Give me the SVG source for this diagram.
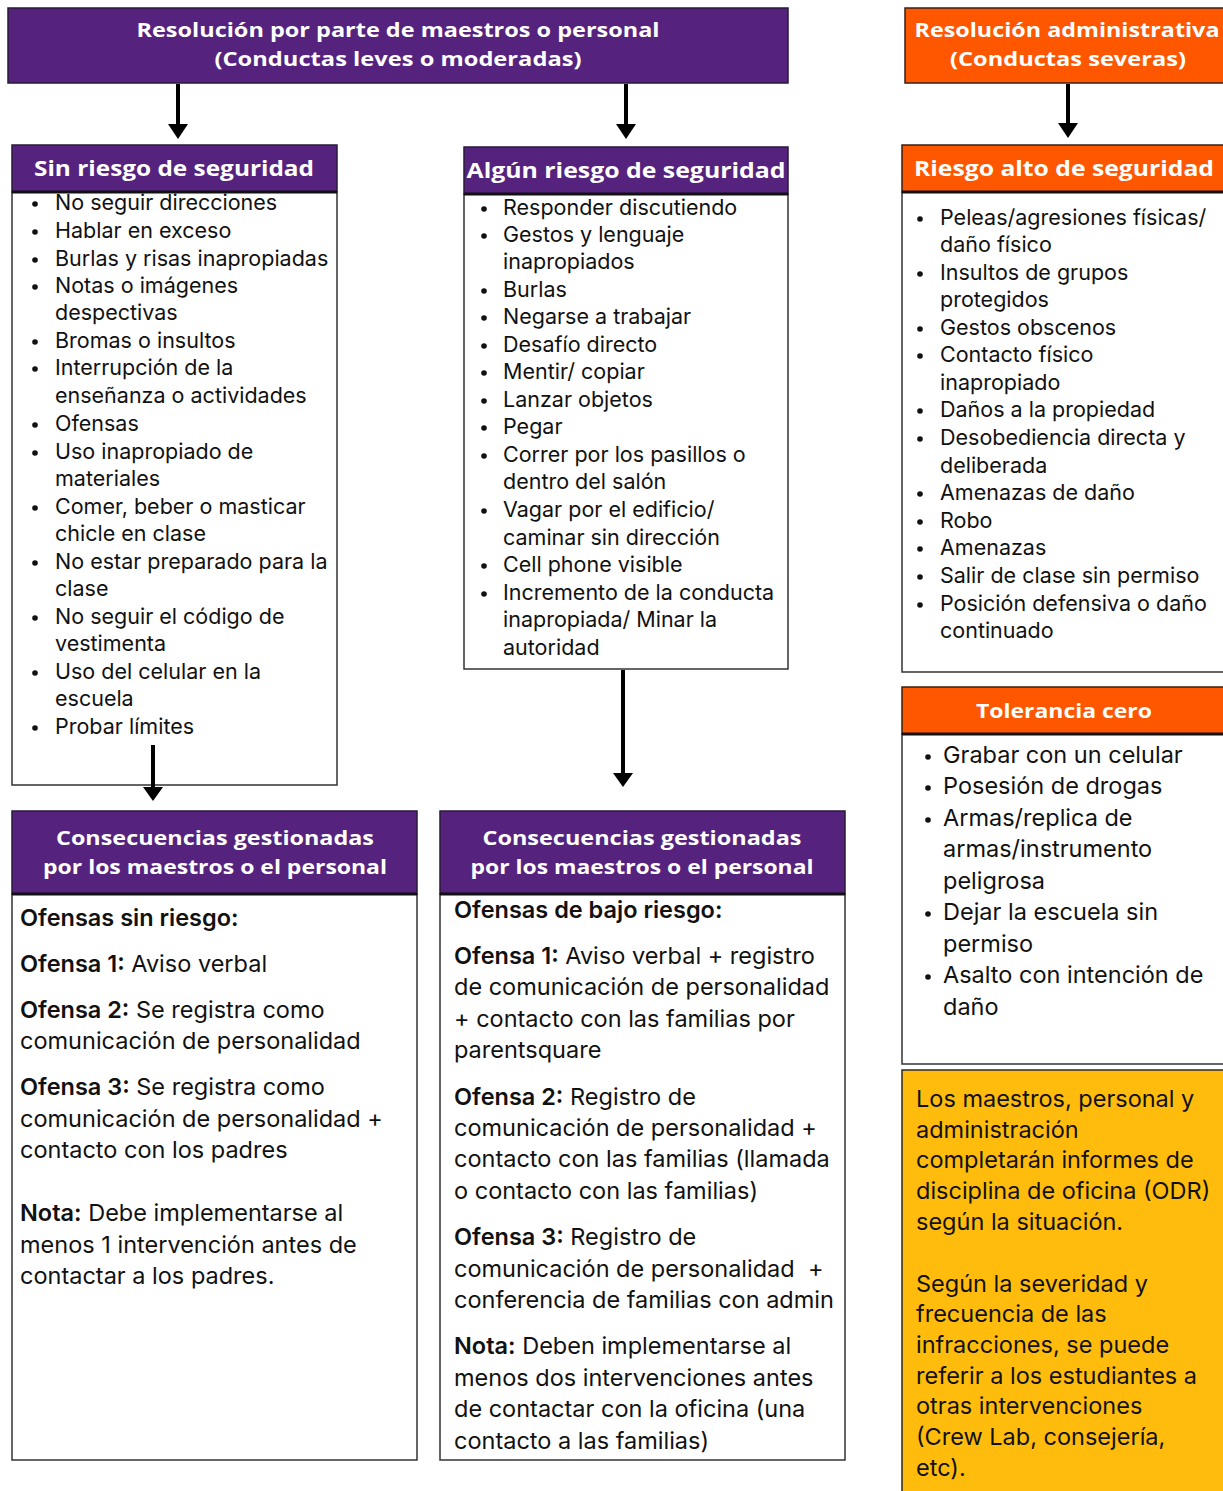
<svg xmlns="http://www.w3.org/2000/svg" width="1223" height="1491" viewBox="0 0 1223 1491">
<style>
.pur{fill:#55237e;stroke:#2a1a3a;stroke-width:1.5}
.org{fill:#ff5700;stroke:#3a2010;stroke-width:1.5}
.yel{fill:#ffbc0d;stroke:#2a2a2a;stroke-width:1.5}
.body{fill:#ffffff;stroke:#333333;stroke-width:1.5}
.sep{stroke:#111111;stroke-width:3}
.ht{font-family:"Open Sans","Liberation Sans",sans-serif;font-weight:700;fill:#ffffff;text-anchor:middle}
.li{font-family:Inter,"Noto Sans",sans-serif;font-size:21.5px;fill:#111111}
.lg{font-family:Inter,"Noto Sans",sans-serif;font-size:23.5px;fill:#111111}
.b{font-weight:600}
.dot{fill:#111111}
.arr{stroke:#000000;stroke-width:4;fill:none}
.ah{fill:#000000}
</style>
<defs>
<circle id="bul" r="2.8" class="dot"/>
</defs>

<g id="top-purple">
<rect x="8" y="8" width="780" height="75" class="pur"/>
<text class="ht" font-size="20" x="398" y="37" textLength="523" lengthAdjust="spacingAndGlyphs">Resolución por parte de maestros o personal</text>
<text class="ht" font-size="20" x="398" y="66" textLength="367" lengthAdjust="spacingAndGlyphs">(Conductas leves o moderadas)</text>
</g>

<g id="top-orange">
<rect x="905" y="8" width="330" height="75" class="org"/>
<text class="ht" font-size="20" x="1067" y="37" textLength="305" lengthAdjust="spacingAndGlyphs">Resolución administrativa</text>
<text class="ht" font-size="20" x="1068" y="66" textLength="236" lengthAdjust="spacingAndGlyphs">(Conductas severas)</text>
</g>

<g id="sin-riesgo">
<rect x="12" y="192" width="325" height="593" class="body"/>
<rect x="12" y="145" width="325" height="47" class="pur"/>
<line x1="12" y1="192" x2="337" y2="192" class="sep" stroke-width="2"/>
<text class="ht" font-size="22" x="174" y="176" textLength="280" lengthAdjust="spacingAndGlyphs">Sin riesgo de seguridad</text>
<g class="li">
<text x="55" y="210">No seguir direcciones</text>
<text x="55" y="238">Hablar en exceso</text>
<text x="55" y="266">Burlas y risas inapropiadas</text>
<text x="55" y="293">Notas o imágenes</text>
<text x="55" y="320">despectivas</text>
<text x="55" y="348">Bromas o insultos</text>
<text x="55" y="375">Interrupción de la</text>
<text x="55" y="403">enseñanza o actividades</text>
<text x="55" y="431">Ofensas</text>
<text x="55" y="459">Uso inapropiado de</text>
<text x="55" y="486">materiales</text>
<text x="55" y="514">Comer, beber o masticar</text>
<text x="55" y="541">chicle en clase</text>
<text x="55" y="569">No estar preparado para la</text>
<text x="55" y="596">clase</text>
<text x="55" y="624">No seguir el código de</text>
<text x="55" y="651">vestimenta</text>
<text x="55" y="679">Uso del celular en la</text>
<text x="55" y="706">escuela</text>
<text x="55" y="734">Probar límites</text>
</g>
<use href="#bul" x="35" y="204"/><use href="#bul" x="35" y="232"/><use href="#bul" x="35" y="260"/>
<use href="#bul" x="35" y="287"/><use href="#bul" x="35" y="342"/><use href="#bul" x="35" y="369"/>
<use href="#bul" x="35" y="425"/><use href="#bul" x="35" y="453"/><use href="#bul" x="35" y="508"/>
<use href="#bul" x="35" y="563"/><use href="#bul" x="35" y="618"/><use href="#bul" x="35" y="673"/>
<use href="#bul" x="35" y="728"/>
</g>

<g id="algun-riesgo">
<rect x="464" y="194" width="324" height="475" class="body"/>
<rect x="464" y="147" width="324" height="47" class="pur"/>
<line x1="464" y1="194" x2="788" y2="194" class="sep" stroke-width="2"/>
<text class="ht" font-size="22" x="626" y="178" textLength="319" lengthAdjust="spacingAndGlyphs">Algún riesgo de seguridad</text>
<g class="li">
<text x="503" y="215">Responder discutiendo</text>
<text x="503" y="242">Gestos y lenguaje</text>
<text x="503" y="269">inapropiados</text>
<text x="503" y="297">Burlas</text>
<text x="503" y="324">Negarse a trabajar</text>
<text x="503" y="352">Desafío directo</text>
<text x="503" y="379">Mentir/ copiar</text>
<text x="503" y="407">Lanzar objetos</text>
<text x="503" y="434">Pegar</text>
<text x="503" y="462">Correr por los pasillos o</text>
<text x="503" y="489">dentro del salón</text>
<text x="503" y="517">Vagar por el edificio/</text>
<text x="503" y="545">caminar sin dirección</text>
<text x="503" y="572">Cell phone visible</text>
<text x="503" y="600">Incremento de la conducta</text>
<text x="503" y="627">inapropiada/ Minar la</text>
<text x="503" y="655">autoridad</text>
</g>
<use href="#bul" x="484" y="209"/><use href="#bul" x="484" y="236"/><use href="#bul" x="484" y="291"/>
<use href="#bul" x="484" y="318"/><use href="#bul" x="484" y="346"/><use href="#bul" x="484" y="373"/>
<use href="#bul" x="484" y="401"/><use href="#bul" x="484" y="428"/><use href="#bul" x="484" y="456"/>
<use href="#bul" x="484" y="511"/><use href="#bul" x="484" y="566"/><use href="#bul" x="484" y="594"/>
</g>

<g id="riesgo-alto">
<rect x="902" y="192" width="330" height="480" class="body"/>
<rect x="902" y="145" width="330" height="47" class="org"/>
<line x1="902" y1="192" x2="1232" y2="192" class="sep" stroke-width="2"/>
<text class="ht" font-size="22" x="1064" y="176" textLength="300" lengthAdjust="spacingAndGlyphs">Riesgo alto de seguridad</text>
<g class="li">
<text x="940" y="225">Peleas/agresiones físicas/</text>
<text x="940" y="252">daño físico</text>
<text x="940" y="280">Insultos de grupos</text>
<text x="940" y="307">protegidos</text>
<text x="940" y="335">Gestos obscenos</text>
<text x="940" y="362">Contacto físico</text>
<text x="940" y="390">inapropiado</text>
<text x="940" y="417">Daños a la propiedad</text>
<text x="940" y="445">Desobediencia directa y</text>
<text x="940" y="473">deliberada</text>
<text x="940" y="500">Amenazas de daño</text>
<text x="940" y="528">Robo</text>
<text x="940" y="555">Amenazas</text>
<text x="940" y="583">Salir de clase sin permiso</text>
<text x="940" y="611">Posición defensiva o daño</text>
<text x="940" y="638">continuado</text>
</g>
<use href="#bul" x="920" y="219"/><use href="#bul" x="920" y="274"/><use href="#bul" x="920" y="329"/>
<use href="#bul" x="920" y="356"/><use href="#bul" x="920" y="411"/><use href="#bul" x="920" y="439"/>
<use href="#bul" x="920" y="494"/><use href="#bul" x="920" y="522"/><use href="#bul" x="920" y="549"/>
<use href="#bul" x="920" y="577"/><use href="#bul" x="920" y="605"/>
</g>

<g id="tolerancia-cero">
<rect x="902" y="734" width="330" height="330" class="body"/>
<rect x="902" y="687" width="330" height="47" class="org"/>
<line x1="902" y1="734" x2="1232" y2="734" class="sep" stroke-width="2"/>
<text class="ht" font-size="20" x="1064" y="718" textLength="176" lengthAdjust="spacingAndGlyphs">Tolerancia cero</text>
<g class="lg">
<text x="943" y="763">Grabar con un celular</text>
<text x="943" y="794">Posesión de drogas</text>
<text x="943" y="826">Armas/replica de</text>
<text x="943" y="857">armas/instrumento</text>
<text x="943" y="889">peligrosa</text>
<text x="943" y="920">Dejar la escuela sin</text>
<text x="943" y="952">permiso</text>
<text x="943" y="983">Asalto con intención de</text>
<text x="943" y="1015">daño</text>
</g>
<use href="#bul" x="928" y="757"/><use href="#bul" x="928" y="788"/><use href="#bul" x="928" y="820"/>
<use href="#bul" x="928" y="914"/><use href="#bul" x="928" y="977"/>
</g>

<g id="nota-odr">
<rect x="902" y="1070" width="330" height="430" class="yel"/>
<g class="lg" fill="#1a1400">
<text x="916" y="1107">Los maestros, personal y</text>
<text x="916" y="1138">administración</text>
<text x="916" y="1168">completarán informes de</text>
<text x="916" y="1199">disciplina de oficina (ODR)</text>
<text x="916" y="1230">según la situación.</text>
<text x="916" y="1292">Según la severidad y</text>
<text x="916" y="1322">frecuencia de las</text>
<text x="916" y="1353">infracciones, se puede</text>
<text x="916" y="1384">referir a los estudiantes a</text>
<text x="916" y="1414">otras intervenciones</text>
<text x="916" y="1445">(Crew Lab, consejería,</text>
<text x="916" y="1476">etc).</text>
</g>
</g>

<g id="consecuencias-1">
<rect x="12" y="894" width="405" height="566" class="body"/>
<rect x="12" y="811" width="405" height="83" class="pur"/>
<line x1="12" y1="894" x2="417" y2="894" class="sep"/>
<text class="ht" font-size="20" x="215" y="845" textLength="318" lengthAdjust="spacingAndGlyphs">Consecuencias gestionadas</text>
<text class="ht" font-size="20" x="215" y="874" textLength="344" lengthAdjust="spacingAndGlyphs">por los maestros o el personal</text>
<g class="lg">
<text x="20" y="926" class="b">Ofensas sin riesgo:</text>
<text x="20" y="972"><tspan class="b">Ofensa 1:</tspan> Aviso verbal</text>
<text x="20" y="1018"><tspan class="b">Ofensa 2:</tspan> Se registra como</text>
<text x="20" y="1049">comunicación de personalidad</text>
<text x="20" y="1095"><tspan class="b">Ofensa 3:</tspan> Se registra como</text>
<text x="20" y="1127">comunicación de personalidad +</text>
<text x="20" y="1158">contacto con los padres</text>
<text x="20" y="1221"><tspan class="b">Nota:</tspan> Debe implementarse al</text>
<text x="20" y="1253">menos 1 intervención antes de</text>
<text x="20" y="1284">contactar a los padres.</text>
</g>
</g>

<g id="consecuencias-2">
<rect x="440" y="894" width="405" height="566" class="body"/>
<rect x="440" y="811" width="405" height="83" class="pur"/>
<line x1="440" y1="894" x2="845" y2="894" class="sep"/>
<text class="ht" font-size="20" x="642" y="845" textLength="319" lengthAdjust="spacingAndGlyphs">Consecuencias gestionadas</text>
<text class="ht" font-size="20" x="642" y="874" textLength="343" lengthAdjust="spacingAndGlyphs">por los maestros o el personal</text>
<g class="lg">
<text x="454" y="918" class="b">Ofensas de bajo riesgo:</text>
<text x="454" y="964"><tspan class="b">Ofensa 1:</tspan> Aviso verbal + registro</text>
<text x="454" y="995">de comunicación de personalidad</text>
<text x="454" y="1027">+ contacto con las familias por</text>
<text x="454" y="1058">parentsquare</text>
<text x="454" y="1105"><tspan class="b">Ofensa 2:</tspan> Registro de</text>
<text x="454" y="1136">comunicación de personalidad +</text>
<text x="454" y="1167">contacto con las familias (llamada</text>
<text x="454" y="1199">o contacto con las familias)</text>
<text x="454" y="1245"><tspan class="b">Ofensa 3:</tspan> Registro de</text>
<text x="454" y="1277" xml:space="preserve">comunicación de personalidad  +</text>
<text x="454" y="1308">conferencia de familias con admin</text>
<text x="454" y="1354"><tspan class="b">Nota:</tspan> Deben implementarse al</text>
<text x="454" y="1386">menos dos intervenciones antes</text>
<text x="454" y="1417">de contactar con la oficina (una</text>
<text x="454" y="1449">contacto a las familias)</text>
</g>
</g>

<g id="connectors">
<line x1="178" y1="84" x2="178" y2="125" class="arr"/>
<polygon points="168,124 188,124 178,139" class="ah"/>
<line x1="626" y1="84" x2="626" y2="125" class="arr"/>
<polygon points="616,124 636,124 626,139" class="ah"/>
<line x1="1068" y1="84" x2="1068" y2="124" class="arr"/>
<polygon points="1058,123 1078,123 1068,138" class="ah"/>
<line x1="153" y1="745" x2="153" y2="788" class="arr"/>
<polygon points="143,787 163,787 153,801" class="ah"/>
<line x1="623" y1="670" x2="623" y2="774" class="arr"/>
<polygon points="613,773 633,773 623,787" class="ah"/>
</g>
</svg>
